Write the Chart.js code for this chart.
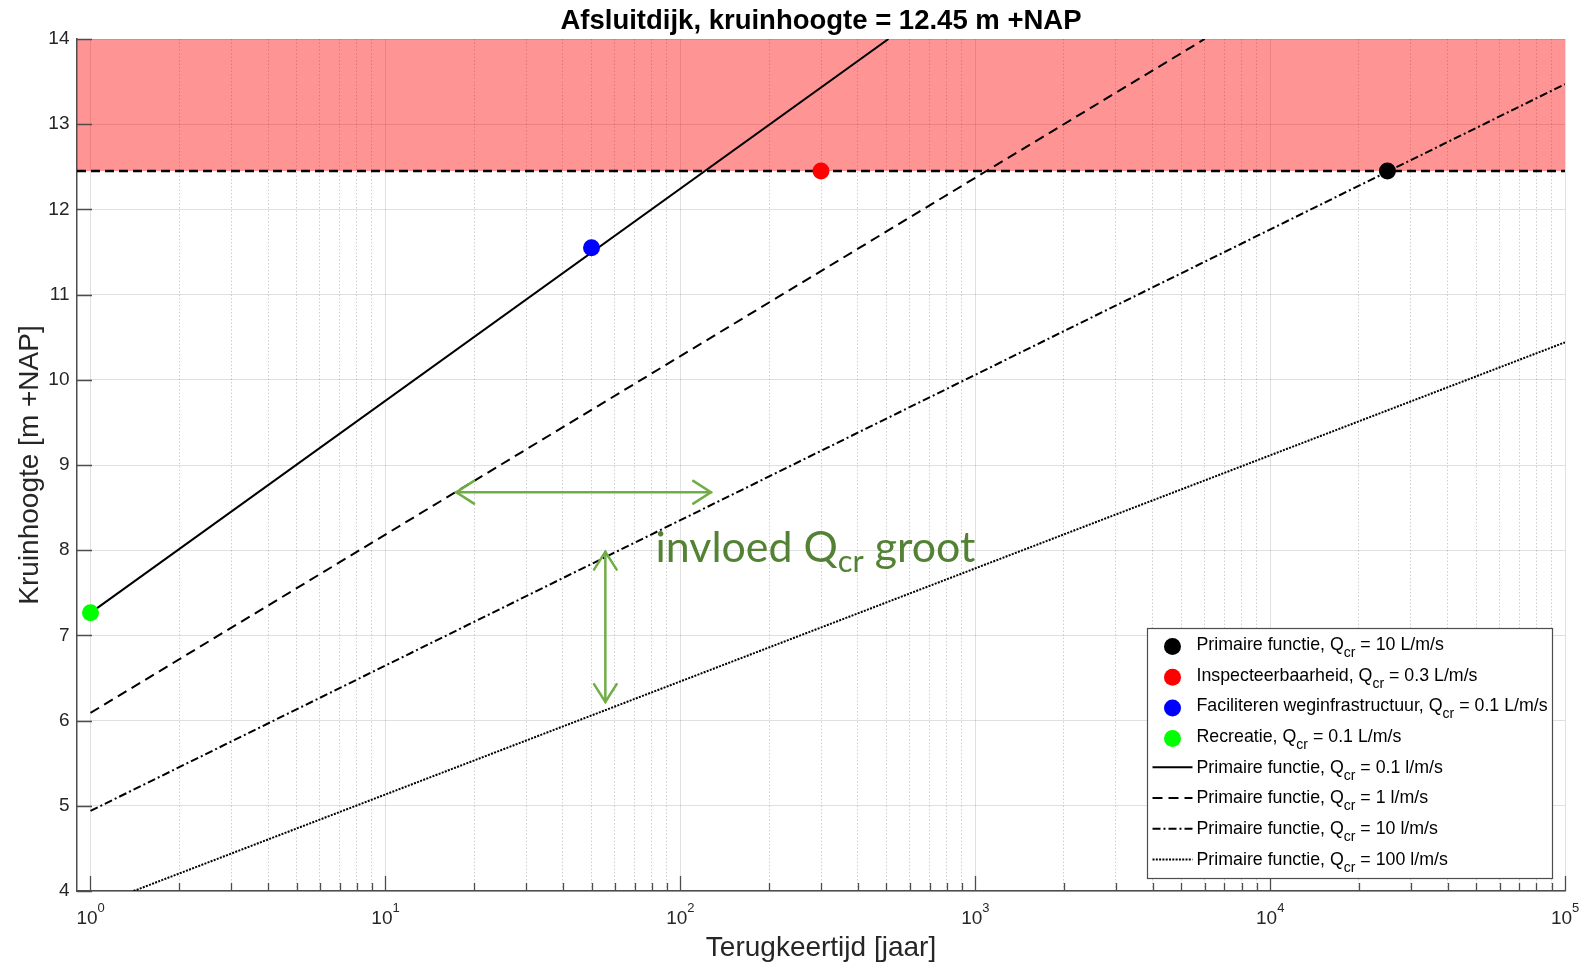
<!DOCTYPE html>
<html>
<head>
<meta charset="utf-8">
<script src="https://cdn.jsdelivr.net/npm/chart.js@4/dist/chart.umd.min.js"></script>
<style>
html,body{margin:0;padding:0;background:#fff;}
#wrap{width:1583px;height:965px;position:relative;}
</style>
</head>
<body>
<div id="wrap"><canvas id="c"></canvas></div>
<script>
// ---------- data ----------
const titleText = 'Afsluitdijk, kruinhoogte = 12.45 m +NAP';
const xTitle = 'Terugkeertijd [jaar]';
const yTitle = 'Kruinhoogte [m +NAP]';
const xRange = [0.9, 100000];
const yRange = [4, 14];
const xDecadeTicks = [1, 10, 100, 1000, 10000, 100000];
const xTickBase = ['10', '10', '10', '10', '10', '10'];
const xTickExponents = ['0', '1', '2', '3', '4', '5'];
const xMinorMultipliers = [2, 3, 4, 5, 6, 7, 8, 9];
const yTicks = [4, 5, 6, 7, 8, 9, 10, 11, 12, 13, 14];
const crestHeight = 12.45;

// scatter points (functions)
const pointLabels = [
  'Primaire functie, Q_cr = 10 L/m/s',
  'Inspecteerbaarheid, Q_cr = 0.3 L/m/s',
  'Faciliteren weginfrastructuur, Q_cr = 0.1 L/m/s',
  'Recreatie, Q_cr = 0.1 L/m/s'
];
const pointT = [25000, 300, 50, 1];
const pointH = [12.45, 12.45, 11.55, 7.265];
const pointColors = ['#000000', '#ff0000', '#0000ff', '#00ff00'];

// crest height lines (return period vs crest height)
const lineLabels = [
  'Primaire functie, Q_cr = 0.1 l/m/s',
  'Primaire functie, Q_cr = 1 l/m/s',
  'Primaire functie, Q_cr = 10 l/m/s',
  'Primaire functie, Q_cr = 100 l/m/s'
];
const q01T = [1, 508];       const q01H = [7.265, 14];
const q1T = [1, 6000];       const q1H = [6.09, 14];
const q10T = [1, 100000];    const q10H = [4.94, 13.47];
const q100T = [1.4, 100000]; const q100H = [4, 10.44];

// annotation (green arrows + text)
const arrowStartT = [17.4, 55.7];
const arrowStartH = [8.68, 7.98];
const arrowEndT = [127, 55.7];
const arrowEndH = [8.68, 6.22];
const annotT = 82.4;
const annotH = 7.86;
const annotParts = ['invloed Q', 'cr', ' groot'];

// ---------- styling ----------
const FONT = '"Liberation Sans", Arial, Helvetica, sans-serif';
const axisColor = '#262626';
const isDecade = v => Math.abs(Math.log10(v) - Math.round(Math.log10(v))) < 1e-9;
const toXY = (T, H) => T.map((t, i) => ({x: t, y: H[i]}));
const TICK_FS = 19, EXP_FS = 13, LABEL_SHIFT = -3.5;

const lineStyles = [
  {dash: [], width: 2},
  {dash: [10, 6], width: 2},
  {dash: [8, 3, 2, 3], width: 2},
  {dash: [2, 1.3], width: 2}
];
const lineSeries = [[q01T, q01H], [q1T, q1H], [q10T, q10H], [q100T, q100H]];

const datasets = [];
pointLabels.forEach((lab, i) => datasets.push({
  label: lab.replace('_cr', 'cr'),
  rich: lab,
  legendKind: 'point',
  data: [{x: pointT[i], y: pointH[i]}],
  showLine: false,
  pointRadius: 8.5,
  pointHoverRadius: 8.5,
  pointBorderWidth: 0,
  pointBackgroundColor: pointColors[i],
  borderColor: pointColors[i],
  backgroundColor: pointColors[i],
  order: 0
}));
lineLabels.forEach((lab, i) => datasets.push({
  label: lab.replace('_cr', 'cr'),
  rich: lab,
  legendKind: 'line',
  data: toXY(lineSeries[i][0], lineSeries[i][1]),
  borderColor: '#000',
  borderWidth: lineStyles[i].width,
  borderDash: lineStyles[i].dash,
  pointRadius: 0,
  pointHoverRadius: 0,
  tension: 0,
  fill: false,
  order: 1
}));
// crest height (dashed) + red zone above it
datasets.push({
  label: 'Kruinhoogte',
  data: toXY(xRange, [crestHeight, crestHeight]),
  borderColor: '#000',
  borderWidth: 2.6,
  borderDash: [9, 5],
  pointRadius: 0,
  fill: false,
  order: 2
});
datasets.push({
  label: 'Zone boven kruin',
  data: toXY(xRange, [yRange[1], yRange[1]]),
  borderWidth: 0,
  borderColor: 'rgba(0,0,0,0)',
  backgroundColor: 'rgba(255,0,0,0.42)',
  pointRadius: 0,
  fill: '-1',
  order: 3
});

// ---------- custom drawing plugin ----------
function drawRich(ctx, parts, x, baseline, size, subSize, subDrop, family, color) {
  ctx.fillStyle = color;
  ctx.textAlign = 'left';
  ctx.textBaseline = 'alphabetic';
  ctx.font = size + 'px ' + family;
  ctx.fillText(parts[0], x, baseline);
  x += ctx.measureText(parts[0]).width;
  ctx.font = subSize + 'px ' + family;
  ctx.fillText(parts[1], x, baseline + subDrop);
  x += ctx.measureText(parts[1]).width;
  ctx.font = size + 'px ' + family;
  ctx.fillText(parts[2], x, baseline);
}

function arrowHead(ctx, x, y, ang) {
  const L = 21, a = Math.PI / 5.5;
  ctx.beginPath();
  ctx.moveTo(x - L * Math.cos(ang - a), y - L * Math.sin(ang - a));
  ctx.lineTo(x, y);
  ctx.lineTo(x - L * Math.cos(ang + a), y - L * Math.sin(ang + a));
  ctx.stroke();
}

const extras = {
  id: 'extras',
  afterDraw(chart) {
    const ctx = chart.ctx, ca = chart.chartArea;
    const xs = chart.scales.x, ys = chart.scales.y;
    ctx.save();
    // inward tick marks (MATLAB style)
    ctx.strokeStyle = '#4d4d4d';
    ctx.lineWidth = 1.3;
    ctx.beginPath();
    yTicks.forEach(v => {
      const y = Math.round(ys.getPixelForValue(v)) + 0.5;
      ctx.moveTo(ca.left, y); ctx.lineTo(ca.left + 15, y);
    });
    xDecadeTicks.forEach((d, i) => {
      const x = Math.round(xs.getPixelForValue(d)) + 0.5;
      ctx.moveTo(x, ca.bottom); ctx.lineTo(x, ca.bottom - 15);
      if (i < xDecadeTicks.length - 1) {
        xMinorMultipliers.forEach(m => {
          const xm = Math.round(xs.getPixelForValue(d * m)) + 0.5;
          ctx.moveTo(xm, ca.bottom); ctx.lineTo(xm, ca.bottom - 8);
        });
      }
    });
    ctx.stroke();

    // exponents of the x tick labels (10^n)
    ctx.fillStyle = axisColor;
    ctx.textAlign = 'left';
    ctx.textBaseline = 'alphabetic';
    xDecadeTicks.forEach((d, i) => {
      ctx.font = TICK_FS + 'px ' + FONT;
      const wb = ctx.measureText(xTickBase[i]).width;
      const x = xs.getPixelForValue(d) + LABEL_SHIFT + wb / 2;
      ctx.font = EXP_FS + 'px ' + FONT;
      ctx.fillText(xTickExponents[i], x, ca.bottom + 20.5);
    });

    // green arrows
    ctx.strokeStyle = '#70AD47';
    ctx.lineWidth = 2.5;
    ctx.lineCap = 'round';
    arrowStartT.forEach((t, i) => {
      const x1 = xs.getPixelForValue(t), y1 = ys.getPixelForValue(arrowStartH[i]);
      const x2 = xs.getPixelForValue(arrowEndT[i]), y2 = ys.getPixelForValue(arrowEndH[i]);
      ctx.beginPath(); ctx.moveTo(x1, y1); ctx.lineTo(x2, y2); ctx.stroke();
      const ang = Math.atan2(y2 - y1, x2 - x1);
      arrowHead(ctx, x2, y2, ang);
      arrowHead(ctx, x1, y1, ang + Math.PI);
    });
    // annotation text
    const AF = 'Lato, "Open Sans", sans-serif';
    const subR = 0.72;
    ctx.font = '100px ' + AF;
    let w100 = ctx.measureText(annotParts[0]).width + ctx.measureText(annotParts[2]).width;
    ctx.font = (100 * subR) + 'px ' + AF;
    w100 += ctx.measureText(annotParts[1]).width;
    const size = 100 * 320 / w100;
    drawRich(ctx, annotParts, xs.getPixelForValue(annotT), ys.getPixelForValue(annotH),
      size, size * subR, size * 0.22, AF, '#548235');

    // legend
    const items = chart.data.datasets.filter(d => d.legendKind);
    const boxW = 405, boxH = 250;
    const bx = Math.round(ca.right - 13 - boxW) + 0.5, by = Math.round(ca.bottom - 13 - boxH) + 0.5;
    ctx.lineCap = 'butt';
    ctx.fillStyle = '#fff';
    ctx.fillRect(bx, by, boxW, boxH);
    ctx.strokeStyle = '#4d4d4d';
    ctx.lineWidth = 1.2;
    ctx.setLineDash([]);
    ctx.strokeRect(bx, by, boxW, boxH);
    const fs = 17.8;
    items.forEach((d, i) => {
      const cy = by + 15 + i * 30.7;
      if (d.legendKind === 'point') {
        ctx.fillStyle = d.pointBackgroundColor;
        ctx.beginPath(); ctx.arc(bx + 25, cy + 3, 8.5, 0, Math.PI * 2); ctx.fill();
      } else {
        ctx.strokeStyle = '#000';
        ctx.lineWidth = d.borderWidth;
        ctx.setLineDash(d.borderDash);
        ctx.beginPath(); ctx.moveTo(bx + 5, cy + 1); ctx.lineTo(bx + 45, cy + 1); ctx.stroke();
        ctx.setLineDash([]);
      }
      const parts = d.rich.split('_cr');
      drawRich(ctx, [parts[0], 'cr', parts[1]], bx + 49, cy + 6.4, fs, 14, 7, FONT, '#000');
    });
    ctx.restore();
  }
};

// ---------- chart ----------
Chart.defaults.font.family = FONT;
new Chart(document.getElementById('c'), {
  type: 'line',
  data: {datasets},
  options: {
    responsive: true,
    maintainAspectRatio: false,
    animation: false,
    events: [],
    layout: {padding: {top: 0.6, right: 18, bottom: 0, left: 0}},
    plugins: {
      legend: {display: false},
      tooltip: {enabled: false},
      title: {
        display: true,
        text: titleText,
        fullSize: false,
        color: '#000',
        font: {size: 27.5, weight: 'bold', family: FONT},
        padding: {top: 4, bottom: 1.4}
      }
    },
    scales: {
      x: {
        type: 'logarithmic',
        min: xRange[0],
        max: xRange[1],
        afterBuildTicks: scale => {
          const t = [];
          xDecadeTicks.forEach((d, i) => {
            t.push({value: d, major: true});
            if (i < xDecadeTicks.length - 1) xMinorMultipliers.forEach(m => t.push({value: d * m}));
          });
          scale.ticks = t;
        },
        afterFit: scale => { scale.height = 74; scale.paddingLeft = 0; scale.paddingRight = 0; },
        ticks: {
          autoSkip: false,
          maxRotation: 0,
          padding: 16,
          labelOffset: LABEL_SHIFT,
          color: axisColor,
          font: {size: TICK_FS},
          callback: v => {
            const k = xDecadeTicks.findIndex(d => Math.abs(d - v) < 1e-9 * d);
            return k >= 0 ? xTickBase[k] : '';
          }
        },
        grid: {
          drawTicks: false,
          lineWidth: 1,
          color: c => (c.tick && !isDecade(c.tick.value)) ? 'rgba(38,38,38,0.22)' : 'rgba(38,38,38,0.14)'
        },
        border: {
          display: true,
          color: '#4d4d4d',
          width: 1.5,
          dash: c => (c.tick && !isDecade(c.tick.value)) ? [1.5, 2] : []
        },
        title: {display: true, text: xTitle, color: axisColor, font: {size: 28}, padding: {top: 0, bottom: 0}}
      },
      y: {
        type: 'linear',
        min: yRange[0],
        max: yRange[1],
        afterBuildTicks: scale => { scale.ticks = yTicks.map(v => ({value: v})); },
        afterFit: scale => { scale.width = 77; scale.paddingTop = 0; scale.paddingBottom = 0; },
        ticks: {color: axisColor, font: {size: TICK_FS}, padding: 7.5},
        grid: {drawTicks: false, lineWidth: 1, color: 'rgba(38,38,38,0.14)'},
        border: {display: true, color: '#4d4d4d', width: 1.5},
        title: {display: true, text: yTitle, color: axisColor, font: {size: 28}, padding: {top: 13.5, bottom: 0}}
      }
    }
  },
  plugins: [extras]
});
</script>
</body>
</html>
